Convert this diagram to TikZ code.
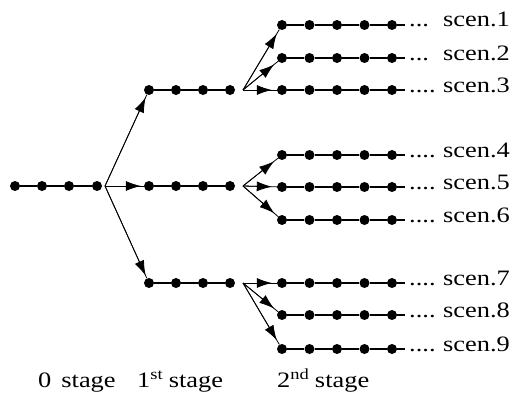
\documentclass[tikz,border=0pt]{standalone}
\usepackage{fontspec}
\setmainfont{Liberation Serif}
\usetikzlibrary{arrows.meta}
\newcommand{\wide}[1]{\scalebox{1.2}[1]{#1}}
\begin{document}
\begin{tikzpicture}[x=1pt,y=-1pt,
  dotnode/.style={circle,fill=black,inner sep=0pt,minimum size=10pt},
  seg/.style={line width=1.2pt},
  link/.style={line width=0.8pt},
  arr/.style={line width=0.8pt,-{Latex[length=15pt,width=10pt]}},
  lbl/.style={font=\fontsize{22}{25}\selectfont, inner sep=0pt, anchor=base west}]
\useasboundingbox (0,0) rectangle (510,396);
% stage 0
\foreach \i/\x in {1/15,2/42,3/69,4/97} \node[dotnode] (z\i) at (\x,186) {};
\coordinate (zf) at (105,186);
\foreach \i/\j in {1/2,2/3,3/4} \draw[seg] (z\i) -- (z\j);
% stage 1
\foreach \r/\y in {A/90,B/186,C/283}{
  \foreach \i/\x in {1/149,2/176,3/203,4/230} \node[dotnode] (\r\i) at (\x,\y) {};
  \coordinate (\r f) at (243,\y);
  \foreach \i/\j in {1/2,2/3,3/4} \draw[seg] (\r\i) -- (\r\j);
}
\foreach \r in {A,B,C}{
  \draw[link] (zf) -- (\r1);
  \draw[arr,shorten >=3pt] (zf) -- (\r1);
}
% stage 2
\foreach \s/\y/\d in {1/25/{...},2/58/{...},3/90/{....},4/155/{....},5/187/{....},6/220/{....},7/283/{....},8/315/{....},9/349/{....}}{
  \foreach \i/\x in {1/282,2/309.5,3/337,4/364.5,5/392} \node[dotnode] (S\s-\i) at (\x,\y) {};
  \coordinate (S\s-e) at (405,\y);
  \foreach \i/\j in {1/2,2/3,3/4,4/5} \draw[seg] (S\s-\i) -- (S\s-\j);
  \draw[seg] (S\s-5) -- (S\s-e);
  \node[lbl] (L\s) at (409,\y+2) {\makebox[34pt][l]{\wide{\d}}\wide{scen.\s}};
}
\foreach \r/\a/\b/\c in {A/1/2/3,B/4/5/6,C/7/8/9}{
  \draw[link] (\r f) -- (S\a-1);
  \draw[arr,shorten >=5pt] (\r f) -- (S\a-1);
  \draw[link] (\r f) -- (S\b-1);
  \draw[arr,shorten >=5pt] (\r f) -- (S\b-1);
  \draw[link] (\r f) -- (S\c-1);
  \draw[arr,shorten >=5pt] (\r f) -- (S\c-1);
}
% stage labels
\node[lbl] (t0) at (38,387) {\wide{0}\hspace{10pt}\wide{stage}};
\node[lbl] (t1) at (137,387) {\wide{1\textsuperscript{st}} \wide{stage}};
\node[lbl] (t2) at (277,387) {\wide{2\textsuperscript{nd}} \wide{stage}};
\end{tikzpicture}
\end{document}
